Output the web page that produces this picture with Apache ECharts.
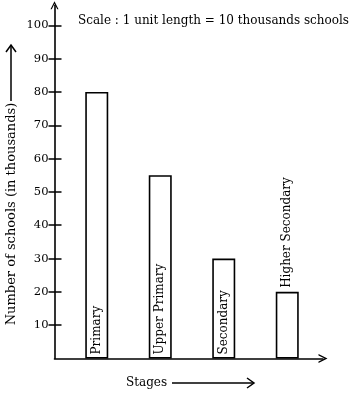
<!DOCTYPE html>
<html>
<head>
<meta charset="utf-8">
<script src="https://cdn.jsdelivr.net/npm/echarts@6/dist/echarts.min.js"></script>
<style>
html,body{margin:0;padding:0;background:#fff;}
#chart{width:357px;height:394px;}
</style>
</head>
<body>
<div id="chart"></div>
<script>
var stages = ['Primary', 'Upper Primary', 'Secondary', 'Higher Secondary'];
var schools = [80, 55, 30, 20];
var tickValues = [10, 20, 30, 40, 50, 60, 70, 80, 90, 100];
var labelInside = [true, true, true, false];
var titleText = 'Scale : 1 unit length = 10 thousands schools';
var yName = 'Number of schools (in thousands)';
var xName = 'Stages';

var FONT = 'DejaVu Serif';
var INK = '#000';
var chevron = 'path://M0,10 L5,0 L10,10 L8.4,10 L5,3.2 L1.6,10 Z';

var chart = echarts.init(document.getElementById('chart'), null, {renderer: 'canvas'});

var barData = schools.map(function (v, i) {
  return {
    value: v,
    label: labelInside[i] ? {
      position: 'insideBottom', distance: 4
    } : {
      position: 'top', distance: 4
    }
  };
});

var option = {
  backgroundColor: '#fff',
  animation: false,
  title: {
    text: titleText,
    left: 78, top: 15, padding: 0,
    textStyle: {fontFamily: FONT, fontSize: 12, fontWeight: 'normal', color: INK}
  },
  grid: [
    {left: 54.5, right: 357 - 323, top: 5.3, bottom: 35.5},
    {left: 65, width: 254, top: 5.3, bottom: 35.5}
  ],
  xAxis: [
    {
      gridIndex: 0, type: 'value', min: 0, max: 1,
      axisLine: {show: true, symbol: ['none', chevron], symbolSize: [11, 9],
        lineStyle: {color: INK, width: 1.6}},
      axisTick: {show: false}, axisLabel: {show: false}, splitLine: {show: false}
    },
    {
      gridIndex: 1, type: 'category', data: stages,
      axisLine: {show: false}, axisTick: {show: false}, axisLabel: {show: false}
    }
  ],
  yAxis: [
    {
      gridIndex: 0, type: 'value', min: 0, max: 106, position: 'left',
      axisLine: {show: true, symbol: ['none', chevron], symbolSize: [11, 8],
        lineStyle: {color: INK, width: 1.6}},
      axisTick: {show: true, length: 6, customValues: tickValues,
        lineStyle: {color: INK, width: 1.5}},
      axisLabel: {show: true, customValues: tickValues, margin: 6,
        fontFamily: FONT, fontSize: 11.5, color: INK},
      splitLine: {show: false}
    },
    {
      gridIndex: 0, type: 'value', min: 0, max: 106, position: 'left', offset: 0,
      axisLine: {show: false},
      axisTick: {show: true, inside: true, length: 7, customValues: tickValues,
        lineStyle: {color: INK, width: 1.5}},
      axisLabel: {show: false}, splitLine: {show: false}
    },
    {
      gridIndex: 1, type: 'value', min: 0, max: 106, show: false
    }
  ],
  series: [{
    type: 'bar',
    xAxisIndex: 1, yAxisIndex: 2,
    data: barData,
    barWidth: 23,
    itemStyle: {color: '#fff', borderColor: INK, borderWidth: 1.6},
    label: {
      show: true, formatter: '{b}', rotate: 90,
      align: 'left', verticalAlign: 'middle',
      fontFamily: FONT, fontSize: 12, color: INK
    }
  }],
  graphic: [
    {
      type: 'text', x: 12, y: 214, rotation: Math.PI / 2,
      style: {text: yName, fontFamily: FONT, fontSize: 13, fill: INK,
        align: 'center', verticalAlign: 'middle'}
    },
    {
      type: 'polyline', shape: {points: [[11, 101], [11, 46]]},
      style: {stroke: INK, lineWidth: 1.5, fill: null}
    },
    {
      type: 'polyline', shape: {points: [[6, 52], [11, 45], [16, 52]]},
      style: {stroke: INK, lineWidth: 1.5, fill: null}
    },
    {
      type: 'text', x: 146.5, y: 383,
      style: {text: xName, fontFamily: FONT, fontSize: 12, fill: INK,
        align: 'center', verticalAlign: 'middle'}
    },
    {
      type: 'polyline', shape: {points: [[172, 383], [253, 383]]},
      style: {stroke: INK, lineWidth: 1.5, fill: null}
    },
    {
      type: 'polyline', shape: {points: [[247, 378], [254, 383], [247, 388]]},
      style: {stroke: INK, lineWidth: 1.5, fill: null}
    }
  ]
};
chart.setOption(option);
</script>
</body>
</html>
